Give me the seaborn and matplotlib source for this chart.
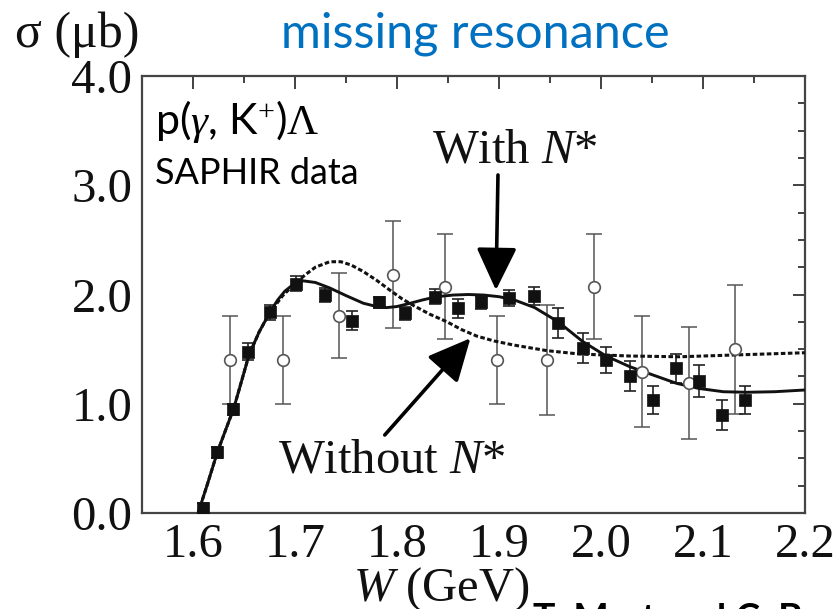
import numpy as np
import pandas as pd
import matplotlib
matplotlib.use('Agg')
import matplotlib.pyplot as plt
import seaborn as sns
from matplotlib.ticker import MultipleLocator, FormatStrFormatter

# ---- SAPHIR data (filled squares) ----
W_saphir = [1.610, 1.624, 1.639, 1.654, 1.675, 1.701, 1.729, 1.756, 1.782, 1.808,
            1.837, 1.860, 1.882, 1.910, 1.934, 1.958, 1.982, 2.005, 2.028, 2.051,
            2.074, 2.096, 2.119, 2.141]
sig_saphir = [0.05, 0.555, 0.95, 1.476, 1.837, 2.10, 1.995, 1.76, 1.93, 1.83,
              1.98, 1.874, 1.93, 1.965, 1.986, 1.742, 1.507, 1.40, 1.254, 1.034,
              1.324, 1.208, 0.897, 1.034]
err_saphir = [0.04, 0.05, 0.05, 0.08, 0.07, 0.07, 0.06, 0.085, 0.05, 0.06,
              0.07, 0.085, 0.06, 0.073, 0.08, 0.137, 0.137, 0.12, 0.137, 0.125,
              0.13, 0.15, 0.135, 0.125]

# ---- older data (open circles) ----
W_old = [1.636, 1.688, 1.743, 1.796, 1.847, 1.898, 1.947, 1.993, 2.040, 2.086, 2.131]
sig_old = [1.40, 1.40, 1.806, 2.18, 2.07, 1.40, 1.40, 2.07, 1.293, 1.19, 1.50]
err_old = [0.40, 0.40, 0.39, 0.49, 0.48, 0.40, 0.50, 0.48, 0.51, 0.51, 0.59]

# ---- model curves ----
W_with = [1.605, 1.614, 1.624, 1.632, 1.640, 1.648, 1.655, 1.665, 1.675, 1.683,
          1.690, 1.698, 1.708, 1.720, 1.734, 1.750, 1.767, 1.780, 1.790, 1.800,
          1.813, 1.825, 1.839, 1.855, 1.870, 1.885, 1.900, 1.915, 1.935, 1.958,
          1.982, 2.005, 2.028, 2.051, 2.074, 2.096, 2.120, 2.143, 2.170, 2.200]
sig_with = [0.0, 0.26, 0.56, 0.76, 0.96, 1.22, 1.45, 1.66, 1.83, 1.95,
            2.03, 2.09, 2.125, 2.11, 2.06, 1.99, 1.92, 1.89, 1.88, 1.89,
            1.92, 1.95, 1.98, 1.995, 2.0, 1.995, 1.98, 1.95, 1.88, 1.75,
            1.57, 1.437, 1.34, 1.263, 1.187, 1.14, 1.11, 1.105, 1.11, 1.126]

W_without = [1.605, 1.614, 1.624, 1.632, 1.640, 1.648, 1.655, 1.665, 1.675, 1.688,
             1.700, 1.710, 1.720, 1.734, 1.745, 1.755, 1.767, 1.780, 1.793, 1.805,
             1.816, 1.832, 1.849, 1.863, 1.878, 1.895, 1.914, 1.947, 1.979, 2.028,
             2.077, 2.130, 2.200]
sig_without = [0.0, 0.26, 0.56, 0.76, 0.96, 1.22, 1.45, 1.66, 1.83, 1.99,
               2.10, 2.18, 2.25, 2.30, 2.30, 2.27, 2.21, 2.13, 2.04, 1.96,
               1.90, 1.82, 1.75, 1.68, 1.62, 1.575, 1.538, 1.486, 1.455, 1.437,
               1.43, 1.446, 1.467]

x_ticks = [1.6, 1.7, 1.8, 1.9, 2.0, 2.1, 2.2]
y_ticks = [0.0, 1.0, 2.0, 3.0, 4.0]

sns.set_theme(style='white')
plt.rcParams['font.family'] = ['Liberation Serif', 'DejaVu Serif']
plt.rcParams['mathtext.fontset'] = 'custom'
plt.rcParams['mathtext.rm'] = 'Liberation Serif'
plt.rcParams['mathtext.it'] = 'Liberation Serif:italic'
plt.rcParams['mathtext.bf'] = 'Liberation Serif:bold'

fig = plt.figure(figsize=(8.34, 6.09), dpi=100)
fig.patch.set_facecolor('white')
ax = fig.add_axes([142/834, 1 - 513/609, 663/834, 437/609])

# error bars
ax.errorbar(W_old, sig_old, yerr=err_old, fmt='none', ecolor='#555555',
            elinewidth=1.1, capsize=6, capthick=1.1, zorder=2)
ax.errorbar(W_saphir, sig_saphir, yerr=err_saphir, fmt='none', ecolor='#222222',
            elinewidth=1.2, capsize=4.5, capthick=1.2, zorder=2)

# curves
sns.lineplot(x=W_without, y=sig_without, ax=ax, color='#111111', lw=2.2,
             linestyle=(0, (1.5, 0.8)), estimator=None, zorder=3)
sns.lineplot(x=W_with, y=sig_with, ax=ax, color='#111111', lw=2.1,
             estimator=None, zorder=3)

# markers
sns.scatterplot(x=W_old, y=sig_old, ax=ax, marker='o', s=70, facecolor='white',
                edgecolor='#555555', linewidth=1.2, zorder=4)
sns.scatterplot(x=W_saphir, y=sig_saphir, ax=ax, marker='s', s=68, color='#111111',
                edgecolor='#111111', linewidth=0.5, zorder=5)

ax.set_xlim(1.55, 2.2)
ax.set_ylim(0, 4)
ax.set_xticks(x_ticks)
ax.set_yticks(y_ticks)
ax.xaxis.set_minor_locator(MultipleLocator(0.05))
ax.yaxis.set_minor_locator(MultipleLocator(0.25))
ax.xaxis.set_major_formatter(FormatStrFormatter('%.1f'))
ax.yaxis.set_major_formatter(FormatStrFormatter('%.1f'))
ax.tick_params(which='both', direction='in', top=True, right=True,
               color='#333333', width=1.3, labelsize=35, labelcolor='#111111')
ax.tick_params(which='major', length=9)
ax.tick_params(which='minor', length=5)
ax.tick_params(axis='y', pad=7)
ax.tick_params(axis='x', pad=7)
for sp in ax.spines.values():
    sp.set_color('#444444')
    sp.set_linewidth(1.6)
ax.set_xlabel('')
ax.set_ylabel('')

# annotations
ax.text(1.916, 3.32, 'With $N$*', ha='center', va='center', fontsize=35, color='#111111')
ax.annotate('', xy=(1.897, 2.04), xytext=(1.899, 3.094),
            arrowprops=dict(arrowstyle='-|>,head_length=1.05,head_width=0.5',
                            mutation_scale=25, lw=2.6, color='black',
                            shrinkA=0, shrinkB=0))
ax.text(1.795, 0.485, 'Without $N$*', ha='center', va='center', fontsize=35, color='#111111')
ax.annotate('', xy=(1.872, 1.60), xytext=(1.788, 0.714),
            arrowprops=dict(arrowstyle='-|>,head_length=1.05,head_width=0.5',
                            mutation_scale=25, lw=2.6, color='black',
                            shrinkA=0, shrinkB=0))

ax.text((155 - 142) / 663, (513 - 134) / 437, 'p($\\gamma$, K$^{+}$)$\\Lambda$',
        transform=ax.transAxes, ha='left', va='baseline', fontsize=31,
        family=['Lato', 'DejaVu Sans'], color='black')
ax.text((155 - 142) / 663, (513 - 184) / 437, 'SAPHIR data',
        transform=ax.transAxes, ha='left', va='baseline', fontsize=26,
        family=['Lato', 'DejaVu Sans'], color='black')

# x label
fig.text(441 / 834, 1 - 589 / 609, '$W$ (GeV)', ha='center', va='center',
         fontsize=35, color='#111111')

# top texts
fig.text(15 / 834, 1 - 47 / 609, 'σ (μb)', ha='left', va='baseline',
         fontsize=36, color='#111111')
fig.text(475 / 834, 1 - 47 / 609, 'missing resonance', ha='center', va='baseline',
         fontsize=35, family=['Lato', 'DejaVu Sans'], color='#0070C0')
fig.text(533 / 834, 1 - 631 / 609, 'T. Mart and C. Bennhold', ha='left', va='baseline',
         fontsize=27, family=['Lato', 'DejaVu Sans'], fontweight='bold', color='black')

fig.savefig('out.png', dpi=100)
